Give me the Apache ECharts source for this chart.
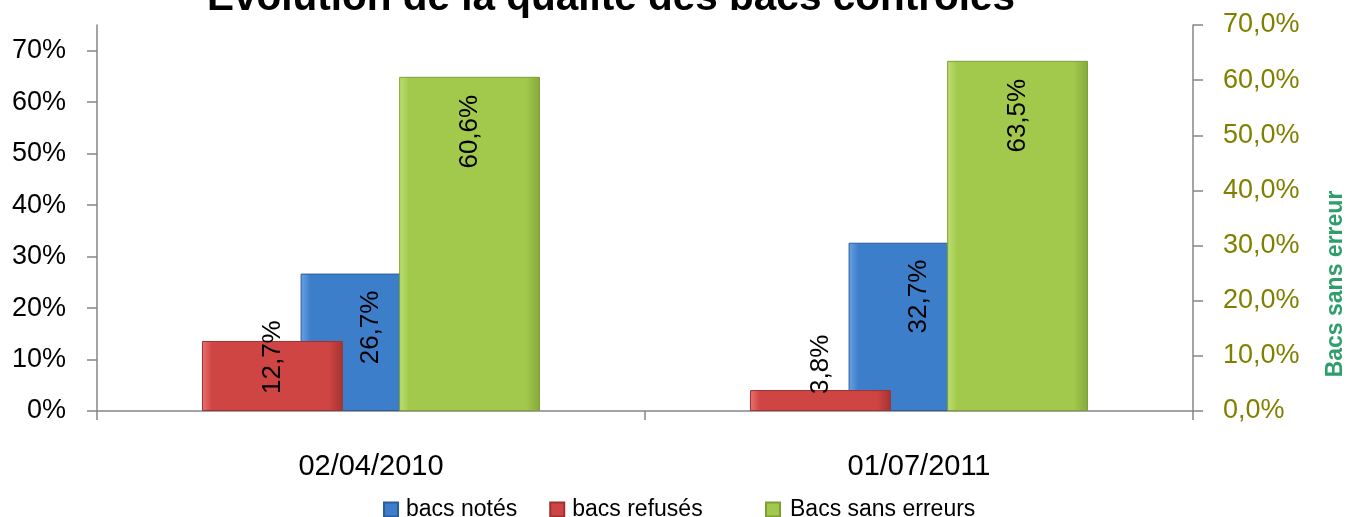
<!DOCTYPE html>
<html>
<head>
<meta charset="utf-8">
<script src="https://cdn.jsdelivr.net/npm/echarts@6/dist/echarts.min.js"></script>
<style>
html,body{margin:0;padding:0;background:#fff;}
#chart{width:1348px;height:517px;}
</style>
</head>
<body>
<div id="chart"></div>
<script>
const categories = ['02/04/2010', '01/07/2011'];
const bacsNotes = [26.7, 32.7];
const bacsRefuses = [12.7, 3.8];
const bacsSansErreurs = [60.6, 63.5];
const leftTicks = [0, 10, 20, 30, 40, 50, 60, 70];
const rightTicks = [0, 10, 20, 30, 40, 50, 60, 70];
const titleText = 'Evolution de la qualité des bacs contrôlés';
const rightAxisName = 'Bacs sans erreur';

const FONT = '"Liberation Sans", Arial, sans-serif';
const fmtComma = v => v.toFixed(1).replace('.', ',') + '%';

function bevel(light, body, dark) {
  return new echarts.graphic.LinearGradient(0, 0, 1, 0, [
    {offset: 0, color: light},
    {offset: 0.07, color: body},
    {offset: 0.9, color: body},
    {offset: 1, color: dark}
  ]);
}

const chart = echarts.init(document.getElementById('chart'), null, {renderer: 'canvas'});
const labelBase = {
  show: true, rotate: 90, fontSize: 26, fontFamily: FONT, color: '#000',
  verticalAlign: 'middle', formatter: p => fmtComma(p.value)
};

chart.setOption({
  backgroundColor: '#fff',
  animation: false,
  title: {
    text: titleText, left: 207, top: -22, padding: 0,
    textStyle: {fontFamily: FONT, fontWeight: 'bold', fontSize: 40.5, lineHeight: 41, color: '#000'}
  },
  legend: [{
    data: ['bacs notés', 'bacs refusés'], left: 383, top: 498, padding: 0,
    itemWidth: 14, itemHeight: 14, itemGap: 32, icon: 'rect',
    textStyle: {fontFamily: FONT, fontSize: 23, color: '#000', padding: [0, 0, 0, 3]}
  }, {
    data: ['Bacs sans erreurs'], left: 765, top: 498, padding: 0,
    itemWidth: 14, itemHeight: 14, icon: 'rect',
    textStyle: {fontFamily: FONT, fontSize: 23, color: '#000', padding: [0, 0, 0, 5]}
  }],
  grid: {left: 97, right: 155, top: 25, bottom: 106, containLabel: false, outerBoundsMode: 'none'},
  xAxis: {
    type: 'category', data: categories,
    axisLine: {lineStyle: {color: '#868686', width: 1.5}},
    axisTick: {show: true, length: 9, lineStyle: {color: '#868686', width: 1.5}},
    axisLabel: {fontFamily: FONT, fontSize: 29, color: '#000', margin: 41}
  },
  yAxis: [{
    type: 'value', min: 0, max: 75, position: 'left',
    splitLine: {show: false},
    axisLine: {show: true, lineStyle: {color: '#868686', width: 1.5}},
    axisTick: {show: true, length: 10, customValues: leftTicks, lineStyle: {color: '#868686', width: 1.5}},
    axisLabel: {customValues: leftTicks, formatter: v => v + '%', fontFamily: FONT, fontSize: 27, color: '#000', margin: 31}
  }, {
    type: 'value', min: 0, max: 70, interval: 10, position: 'right',
    splitLine: {show: false},
    axisLine: {show: true, lineStyle: {color: '#868686', width: 1.5}},
    axisTick: {show: true, length: 10, customValues: rightTicks, lineStyle: {color: '#868686', width: 1.5}},
    axisLabel: {customValues: rightTicks, formatter: v => fmtComma(v), fontFamily: FONT, fontSize: 27, color: '#808000', margin: 30},
    name: rightAxisName, nameLocation: 'middle', nameGap: 131,
    nameTextStyle: {fontFamily: FONT, fontWeight: 'bold', fontSize: 23, color: '#2E9E6B', padding: [0, 132, 0, 0]}
  }],
  series: [{
    name: 'bacs refusés', type: 'bar', yAxisIndex: 1, data: bacsRefuses,
    barWidth: '25.7%', z: 3,
    itemStyle: {color: bevel('#E87472', '#CF4543', '#A53331'), borderColor: '#9E3230', borderWidth: 1},
    label: Object.assign({}, labelBase, {position: 'insideBottom', distance: 17, align: 'left'})
  }, {
    name: 'bacs notés', type: 'bar', yAxisIndex: 0, data: bacsNotes,
    barWidth: '25.7%', z: 1,
    itemStyle: {color: bevel('#69A3E6', '#3D7ECB', '#2C62A6'), borderColor: '#2B5C9C', borderWidth: 1},
    label: Object.assign({}, labelBase, {position: 'insideTop', distance: 17, align: 'right'})
  }, {
    name: 'Bacs sans erreurs', type: 'bar', yAxisIndex: 1, data: bacsSansErreurs,
    barWidth: '25.7%', barGap: '-30%', z: 3,
    itemStyle: {color: bevel('#BFE071', '#A2C94C', '#86A83A'), borderColor: '#7E9E36', borderWidth: 1},
    label: Object.assign({}, labelBase, {position: 'insideTop', distance: 18, align: 'right'})
  }]
});
</script>
</body>
</html>
